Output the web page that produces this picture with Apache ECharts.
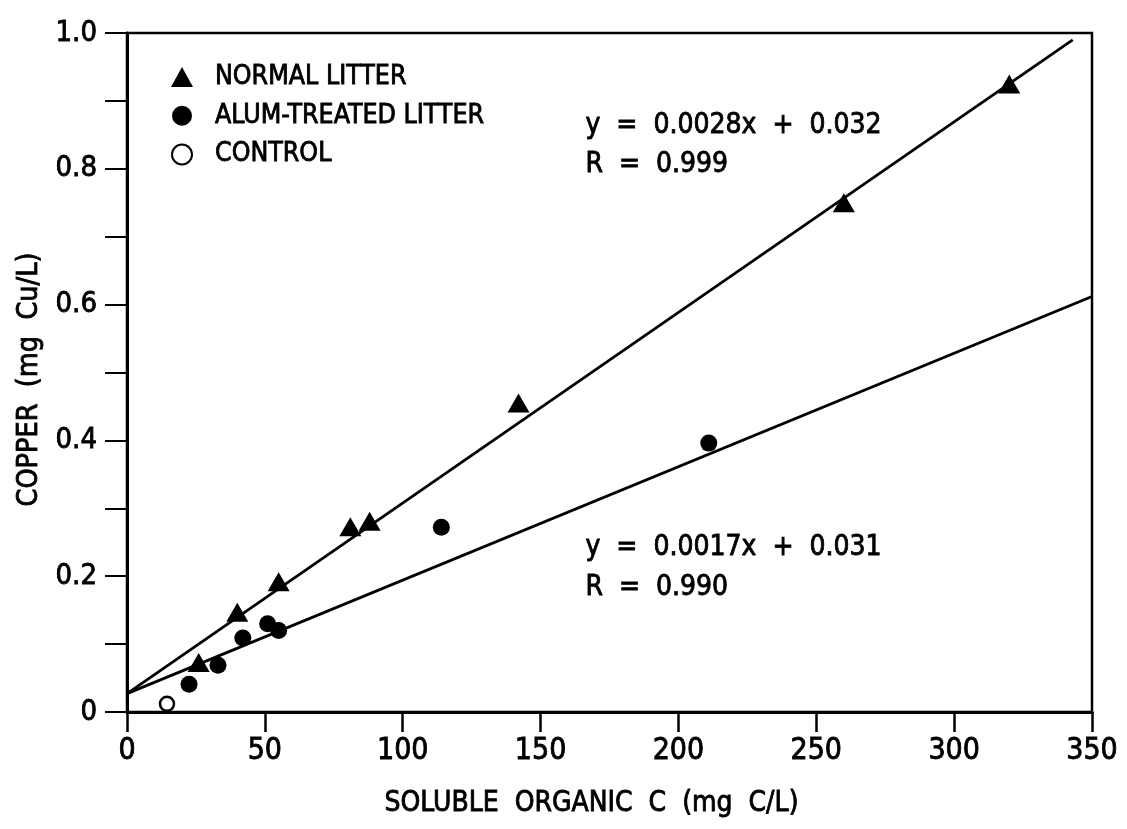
<!DOCTYPE html>
<html><head><meta charset="utf-8">
<script src="https://cdn.jsdelivr.net/npm/echarts@6/dist/echarts.min.js"></script>
<style>html,body{margin:0;padding:0;background:#fff}#c{width:1127px;height:829px}</style>
</head><body><div id="c"></div>
<script>
const xTicks = [0, 50, 100, 150, 200, 250, 300, 350];
const yTicks = [0, 0.2, 0.4, 0.6, 0.8, 1.0];
const normalX = [26, 40, 55, 81, 88, 142, 260, 320];
const normalY = [0.073, 0.147, 0.192, 0.273, 0.281, 0.455, 0.75, 0.925];
const alumX = [22.5, 33, 42, 51, 55, 114, 211];
const alumY = [0.041, 0.069, 0.109, 0.13, 0.12, 0.272, 0.396];
const controlX = [14.5];
const controlY = [0.012];
const fitNormalX = [0, 343];
const fitNormalY = [0.027, 0.99];
const fitAlumX = [0, 350];
const fitAlumY = [0.027, 0.612];
const seriesNames = ['NORMAL LITTER', 'ALUM-TREATED LITTER', 'CONTROL'];
const eq1 = ['y  =  0.0028x  +  0.032', 'R  =  0.999'];
const eq2 = ['y  =  0.0017x  +  0.031', 'R  =  0.990'];
const xTitle = 'SOLUBLE  ORGANIC  C  (mg  C/L)';
const yTitle = 'COPPER  (mg  Cu/L)';

const FONT = '"Liberation Sans Narrow", "DejaVu Sans Condensed", sans-serif';
const heavy = { textBorderColor: '#000', textBorderWidth: 0.8 };
const zip = (a, b) => a.map((v, i) => [v, b[i]]);
const chart = echarts.init(document.getElementById('c'));
chart.setOption({
  animation: false,
  backgroundColor: '#fff',
  grid: { left: 127, right: 35, top: 33, bottom: 117, show: true, borderColor: '#000', borderWidth: 2.5, backgroundColor: 'transparent' },
  legend: {
    orient: 'vertical', left: 166, top: 58, itemGap: 11, itemWidth: 22, itemHeight: 20,
    data: seriesNames,
    textStyle: Object.assign({ fontFamily: FONT, fontSize: 26.5, color: '#000', padding: [0, 0, 0, 17] }, heavy)
  },
  xAxis: {
    type: 'value', min: 0, max: 350, interval: 50,
    name: xTitle, nameLocation: 'middle', nameGap: 78,
    nameTextStyle: Object.assign({ fontFamily: FONT, fontSize: 28, color: '#000', padding: [0, 36, 0, 0] }, heavy),
    axisLine: { show: true, lineStyle: { color: '#000', width: 3 } },
    axisTick: { show: true, inside: false, length: 20, lineStyle: { color: '#000', width: 2.5 } },
    axisLabel: Object.assign({ fontFamily: FONT, fontSize: 30, color: '#000', margin: 24,
      formatter: v => xTicks.includes(v) ? String(v) : '' }, heavy),
    splitLine: { show: false }
  },
  yAxis: {
    type: 'value', min: 0, max: 1.0, interval: 0.1,
    name: yTitle, nameLocation: 'middle', nameGap: 82, nameRotate: 90,
    nameTextStyle: Object.assign({ fontFamily: FONT, fontSize: 28.5, color: '#000', padding: [0, 14, 0, 0] }, heavy),
    axisLine: { show: true, lineStyle: { color: '#000', width: 3 } },
    axisTick: { show: true, inside: false, length: 22, lineStyle: { color: '#000', width: 2 } },
    axisLabel: Object.assign({ fontFamily: FONT, fontSize: 29, color: '#000', margin: 30,
      formatter: v => {
        const hit = yTicks.find(t => Math.abs(v - t) < 1e-6);
        if (hit === undefined) return '';
        return hit === 0 ? '0' : hit.toFixed(1);
      } }, heavy),
    splitLine: { show: false }
  },
  series: [
    { name: 'fit1', type: 'line', data: zip(fitNormalX, fitNormalY), symbol: 'none', silent: true,
      lineStyle: { color: '#000', width: 2.8 }, z: 1 },
    { name: 'fit2', type: 'line', data: zip(fitAlumX, fitAlumY), symbol: 'none', silent: true,
      lineStyle: { color: '#000', width: 2.8 }, z: 1 },
    { name: seriesNames[0], type: 'scatter', data: zip(normalX, normalY), symbol: 'triangle', symbolSize: [22, 19],
      itemStyle: { color: '#000', opacity: 1 }, z: 3 },
    { name: seriesNames[1], type: 'scatter', data: zip(alumX, alumY), symbol: 'circle', symbolSize: 17,
      itemStyle: { color: '#000', opacity: 1 }, z: 3 },
    { name: seriesNames[2], type: 'scatter', data: zip(controlX, controlY), symbol: 'circle', symbolSize: 14,
      itemStyle: { color: '#fff', borderColor: '#000', borderWidth: 2.5, opacity: 1 }, z: 3 }
  ],
  graphic: [
    { type: 'text', left: 585, top: 106, style: Object.assign({ text: eq1.join('\n'), font: '28px ' + FONT, fill: '#000', lineHeight: 39 }, { stroke: '#000', lineWidth: 0.8 }) },
    { type: 'text', left: 585, top: 528, style: Object.assign({ text: eq2.join('\n'), font: '28px ' + FONT, fill: '#000', lineHeight: 40 }, { stroke: '#000', lineWidth: 0.8 }) }
  ]
});
</script></body></html>
